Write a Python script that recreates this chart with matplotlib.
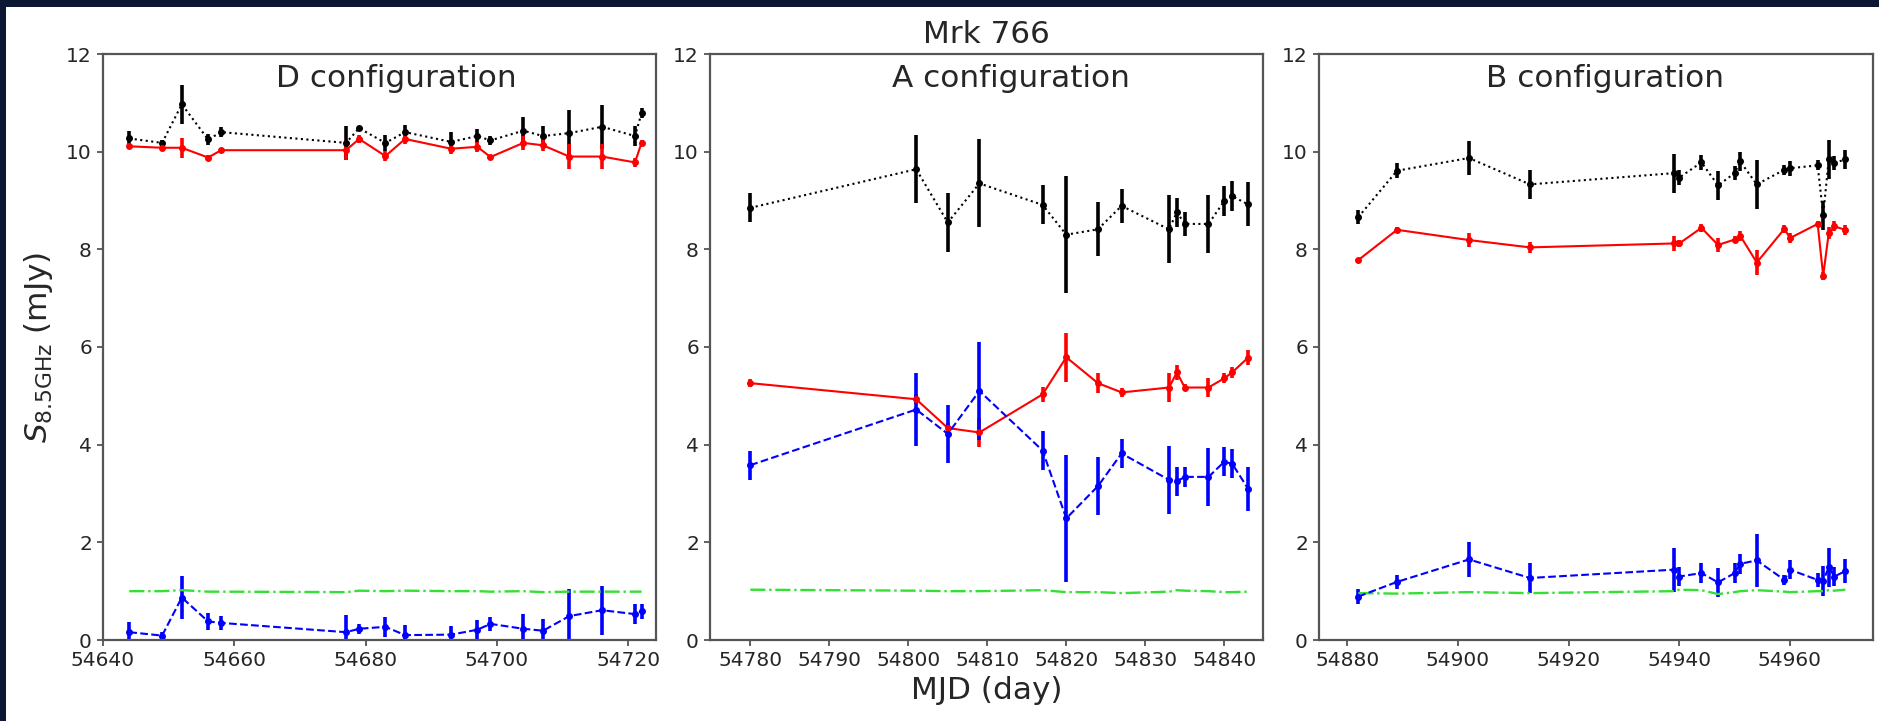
import matplotlib
matplotlib.use('Agg')
import matplotlib.pyplot as plt
from matplotlib.patches import Rectangle

# D configuration
mjd_d = [54644, 54649, 54652, 54656, 54658, 54677, 54679, 54683, 54686,
         54693, 54697, 54699, 54704, 54707, 54711, 54716, 54721, 54722]
tot_d = [10.27, 10.18, 10.97, 10.25, 10.40, 10.18, 10.48, 10.18, 10.40,
         10.20, 10.32, 10.23, 10.43, 10.32, 10.38, 10.51, 10.32, 10.79]
tot_d_err = [0.15, 0.05, 0.40, 0.12, 0.10, 0.35, 0.05, 0.17, 0.15,
             0.20, 0.15, 0.10, 0.27, 0.20, 0.48, 0.45, 0.20, 0.10]
core_d = [10.11, 10.08, 10.08, 9.88, 10.03, 10.03, 10.26, 9.91, 10.26,
          10.06, 10.10, 9.89, 10.18, 10.13, 9.90, 9.90, 9.78, 10.18]
core_d_err = [0.05, 0.05, 0.20, 0.05, 0.05, 0.20, 0.08, 0.10, 0.10,
              0.10, 0.10, 0.05, 0.15, 0.12, 0.25, 0.25, 0.10, 0.05]
ext_d = [0.16, 0.09, 0.87, 0.38, 0.35, 0.16, 0.23, 0.27, 0.10,
         0.11, 0.21, 0.33, 0.23, 0.19, 0.49, 0.61, 0.53, 0.59]
ext_d_err = [0.20, 0.07, 0.45, 0.18, 0.15, 0.35, 0.10, 0.20, 0.20,
             0.18, 0.20, 0.15, 0.30, 0.25, 0.55, 0.50, 0.20, 0.15]
cal_d = [1.00, 1.00, 1.02, 0.99, 0.99, 0.98, 1.01, 1.00, 1.01,
         1.00, 1.00, 0.99, 1.00, 0.98, 0.99, 0.99, 0.99, 0.99]

# A configuration
mjd_a = [54780, 54801, 54805, 54809, 54817, 54820, 54824, 54827, 54833,
         54834, 54835, 54838, 54840, 54841, 54843]
tot_a = [8.85, 9.64, 8.55, 9.35, 8.91, 8.30, 8.41, 8.89, 8.41,
         8.76, 8.52, 8.52, 8.99, 9.09, 8.92]
tot_a_err = [0.30, 0.70, 0.60, 0.90, 0.40, 1.20, 0.55, 0.35, 0.70,
             0.30, 0.25, 0.60, 0.30, 0.30, 0.45]
core_a = [5.26, 4.93, 4.34, 4.25, 5.03, 5.79, 5.26, 5.07, 5.17,
          5.48, 5.17, 5.17, 5.36, 5.48, 5.78]
core_a_err = [0.08, 0.10, 0.10, 0.30, 0.15, 0.50, 0.20, 0.10, 0.30,
              0.15, 0.08, 0.20, 0.10, 0.12, 0.15]
ext_a = [3.58, 4.72, 4.22, 5.10, 3.88, 2.49, 3.15, 3.82, 3.28,
         3.25, 3.34, 3.34, 3.65, 3.61, 3.10]
ext_a_err = [0.30, 0.75, 0.60, 1.00, 0.40, 1.30, 0.60, 0.30, 0.70,
             0.30, 0.20, 0.60, 0.30, 0.30, 0.45]
cal_a = [1.03, 1.01, 1.00, 1.00, 1.02, 0.98, 0.98, 0.96, 0.99,
         1.02, 1.01, 1.00, 0.98, 0.98, 0.99]

# B configuration
mjd_b = [54882, 54889, 54902, 54913, 54939, 54940, 54944, 54947, 54950,
         54951, 54954, 54959, 54960, 54965, 54966, 54967, 54968, 54970]
tot_b = [8.66, 9.61, 9.87, 9.33, 9.56, 9.47, 9.78, 9.31, 9.56,
         9.80, 9.33, 9.63, 9.66, 9.72, 8.70, 9.84, 9.77, 9.84]
tot_b_err = [0.15, 0.15, 0.35, 0.30, 0.40, 0.15, 0.15, 0.30, 0.15,
             0.20, 0.50, 0.10, 0.15, 0.10, 0.30, 0.40, 0.15, 0.20]
core_b = [7.78, 8.40, 8.19, 8.04, 8.12, 8.12, 8.44, 8.09, 8.20,
          8.28, 7.73, 8.42, 8.23, 8.52, 7.46, 8.33, 8.47, 8.40]
core_b_err = [0.05, 0.05, 0.15, 0.12, 0.15, 0.08, 0.08, 0.15, 0.08,
              0.10, 0.25, 0.08, 0.10, 0.05, 0.08, 0.12, 0.10, 0.10]
ext_b = [0.89, 1.19, 1.65, 1.27, 1.44, 1.30, 1.37, 1.18, 1.37,
         1.56, 1.63, 1.23, 1.44, 1.23, 1.21, 1.49, 1.30, 1.41]
ext_b_err = [0.15, 0.15, 0.35, 0.30, 0.45, 0.20, 0.20, 0.30, 0.20,
             0.20, 0.55, 0.10, 0.20, 0.15, 0.30, 0.40, 0.20, 0.25]
cal_b = [0.96, 0.95, 0.98, 0.96, 1.00, 1.03, 1.02, 0.94, 0.98,
         1.00, 1.02, 0.99, 0.98, 1.00, 1.00, 1.02, 1.01, 1.03]

panels = [
    ('D configuration', mjd_d, tot_d, tot_d_err, core_d, core_d_err,
     ext_d, ext_d_err, cal_d, (54640, 54724.2), [54640, 54660, 54680, 54700, 54720], 0.530),
    ('A configuration', mjd_a, tot_a, tot_a_err, core_a, core_a_err,
     ext_a, ext_a_err, cal_a, (54774.9, 54844.9), list(range(54780, 54841, 10)), 0.544),
    ('B configuration', mjd_b, tot_b, tot_b_err, core_b, core_b_err,
     ext_b, ext_b_err, cal_b, (54874.9, 54975.0), [54880, 54900, 54920, 54940, 54960], 0.516),
]

txt = '#262626'
spine = '#555555'
plt.rcParams['font.family'] = 'DejaVu Sans'

fig = plt.figure(figsize=(18.79, 7.21), dpi=100)
fig.patch.set_facecolor('white')
# dark slide border along top and left edge
fig.add_artist(Rectangle((0, 1 - 7 / 721), 1, 7 / 721, transform=fig.transFigure,
                         facecolor='#0b1733', edgecolor='none'))
fig.add_artist(Rectangle((0, 0), 6 / 1879, 1, transform=fig.transFigure,
                         facecolor='#0b1733', edgecolor='none'))

lefts = [103 / 1879, 710 / 1879, 1319 / 1879]
widths = [553 / 1879, 553 / 1879, 554 / 1879]
bottom = 81 / 721
height = 586 / 721

axes = []
for (name, mjd, tot, tot_err, core, core_err, ext, ext_err, cal,
     xlim, xticks, tx), left, w in zip(panels, lefts, widths):
    ax = fig.add_axes([left, bottom, w, height])
    axes.append(ax)
    ax.errorbar(mjd, tot, yerr=tot_err, fmt='o:', color='black', ms=4,
                lw=1.5, elinewidth=2.6, capsize=0)
    ax.errorbar(mjd, core, yerr=core_err, fmt='o-', color='red', ms=4,
                lw=1.5, elinewidth=2.6, capsize=0)
    ax.errorbar(mjd, ext, yerr=ext_err, fmt='o--', color='blue', ms=4,
                lw=1.5, elinewidth=2.6, capsize=0)
    ax.plot(mjd, cal, '-.', color='#33e033', lw=1.7)
    ax.set_xlim(*xlim)
    ax.set_ylim(0, 12)
    ax.set_xticks(xticks)
    ax.set_yticks(range(0, 13, 2))
    ax.ticklabel_format(useOffset=False, style='plain', axis='x')
    ax.tick_params(labelsize=14.5, colors=spine, labelcolor=txt, length=4.5, width=1.3)
    for s in ax.spines.values():
        s.set_color(spine)
        s.set_linewidth(1.6)
    ax.text(tx, 11.5 / 12, name, transform=ax.transAxes, ha='center', va='center',
            fontsize=22.4, color=txt)

axes[0].set_ylabel(r'$S_{\rm 8.5GHz}$ (mJy)', fontsize=22.4, color=txt, labelpad=8)
axes[1].set_xlabel('MJD (day)', fontsize=22.4, color=txt, labelpad=4)
axes[1].set_title('Mrk 766', fontsize=22.4, color=txt, pad=8)

fig.savefig('out.png', dpi=100)
